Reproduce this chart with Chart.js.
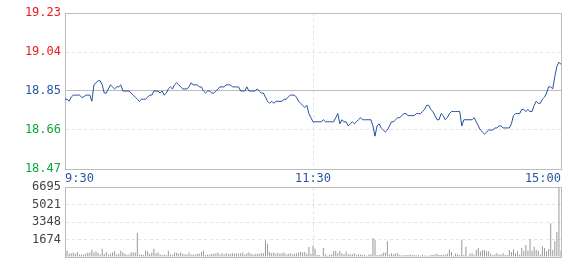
<!DOCTYPE html>
<html>
<head>
<meta charset="utf-8">
<script src="https://cdn.jsdelivr.net/npm/chart.js@4.4.1/dist/chart.umd.min.js"></script>
<style>
  html, body { margin: 0; padding: 0; background: #fff; }
  #wrap { position: relative; width: 580px; height: 280px; }
  #price { position: absolute; left: 0; top: 0; }
  #volume { position: absolute; left: 0; top: 176px; }
</style>
</head>
<body>
<div id="wrap">
  <canvas id="price" width="580" height="184"></canvas>
  <canvas id="volume" width="580" height="104"></canvas>
</div>
<script>
// time axis: minute index 0..240 (9:30 - 11:30, 13:01 - 15:00)
const timeTicks = [0, 120, 240];
const timeLabels = ["9:30", "11:30", "15:00"];
const priceTicks = [18.47, 18.66, 18.85, 19.04, 19.23];
const prevClose = 18.85;
const volumeTicks = [0, 1674, 3348, 5021, 6695];

// minute prices, morning session (9:30 - 11:30)
const priceAM = [
  18.81, 18.81, 18.80, 18.82, 18.83, 18.83, 18.83, 18.83, 18.82, 18.82,
  18.83, 18.83, 18.83, 18.80, 18.88, 18.89, 18.90, 18.90, 18.88, 18.84,
  18.84, 18.86, 18.88, 18.87, 18.86, 18.87, 18.87, 18.88, 18.85, 18.85,
  18.85, 18.85, 18.84, 18.83, 18.82, 18.81, 18.80, 18.81, 18.81, 18.81,
  18.82, 18.83, 18.83, 18.85, 18.85, 18.85, 18.84, 18.85, 18.83, 18.84,
  18.86, 18.87, 18.86, 18.88, 18.89, 18.88, 18.87, 18.86, 18.86, 18.86,
  18.87, 18.89, 18.88, 18.88, 18.88, 18.87, 18.87, 18.85, 18.84, 18.85,
  18.85, 18.84, 18.84, 18.85, 18.86, 18.87, 18.87, 18.87, 18.88, 18.88,
  18.88, 18.87, 18.87, 18.87, 18.87, 18.85, 18.85, 18.85, 18.87, 18.85,
  18.85, 18.85, 18.85, 18.86, 18.85, 18.84, 18.84, 18.82, 18.80, 18.79,
  18.80, 18.79, 18.80, 18.80, 18.80, 18.80, 18.81, 18.81, 18.82, 18.83,
  18.83, 18.83, 18.82, 18.80, 18.79, 18.78, 18.77, 18.78, 18.74, 18.72,
  18.70
];
// afternoon session (13:01 - 15:00)
const pricePM = [
  18.70, 18.70, 18.70, 18.70, 18.71, 18.70, 18.70, 18.70, 18.70, 18.70,
  18.72, 18.74, 18.69, 18.71, 18.70, 18.70, 18.68, 18.69, 18.70, 18.69,
  18.70, 18.71, 18.72, 18.71, 18.71, 18.71, 18.71, 18.71, 18.68, 18.63,
  18.68, 18.69, 18.67, 18.66, 18.65, 18.66, 18.68, 18.70, 18.70, 18.71,
  18.72, 18.72, 18.73, 18.74, 18.74, 18.73, 18.73, 18.73, 18.73, 18.74,
  18.74, 18.74, 18.75, 18.76, 18.78, 18.78, 18.76, 18.75, 18.73, 18.71,
  18.71, 18.74, 18.73, 18.71, 18.72, 18.74, 18.75, 18.75, 18.75, 18.75,
  18.75, 18.68, 18.71, 18.71, 18.71, 18.71, 18.71, 18.72, 18.70, 18.68,
  18.66, 18.65, 18.64, 18.65, 18.66, 18.66, 18.66, 18.67, 18.67, 18.68,
  18.68, 18.67, 18.67, 18.67, 18.67, 18.69, 18.73, 18.74, 18.74, 18.74,
  18.76, 18.76, 18.75, 18.76, 18.75, 18.75, 18.78, 18.80, 18.79, 18.79,
  18.81, 18.82, 18.84, 18.87, 18.87, 18.86, 18.92, 18.97, 18.99, 18.98
];

// minute volumes
const volumeAM = [
  300, 610, 300, 370, 430, 300, 490, 250, 250, 250,
  300, 400, 430, 700, 430, 550, 400, 250, 790, 300,
  490, 250, 300, 430, 550, 250, 300, 610, 430, 300,
  180, 250, 430, 430, 430, 2300, 250, 250, 180, 610,
  550, 300, 430, 790, 370, 430, 250, 180, 250, 180,
  610, 250, 180, 430, 400, 300, 430, 300, 250, 250,
  430, 250, 250, 250, 300, 300, 490, 610, 180, 250,
  250, 300, 300, 370, 430, 250, 370, 250, 370, 300,
  300, 370, 300, 370, 300, 370, 430, 250, 370, 430,
  300, 250, 300, 300, 300, 370, 370, 1600, 1250, 490,
  370, 430, 300, 400, 300, 370, 430, 250, 300, 370,
  250, 300, 370, 430, 490, 430, 490, 300, 950, 300,
  1100
];
const volumePM = [
  800, 180, 180, 60, 890, 275, 120, 180, 245, 580,
  610, 370, 610, 370, 275, 520, 275, 275, 275, 370,
  180, 275, 245, 180, 180, 120, 245, 275, 1800, 1650,
  180, 180, 275, 430, 430, 1500, 245, 370, 275, 370,
  370, 180, 150, 180, 180, 180, 245, 180, 180, 150,
  180, 120, 180, 150, 120, 120, 180, 180, 245, 305,
  180, 180, 180, 245, 305, 730, 490, 120, 335, 275,
  180, 1650, 180, 980, 120, 335, 370, 180, 670, 855,
  520, 670, 640, 550, 550, 305, 180, 245, 370, 245,
  245, 370, 180, 180, 670, 490, 730, 370, 580, 245,
  855, 610, 1160, 610, 1710, 610, 980, 670, 610, 245,
  1040, 855, 550, 765, 3240, 670, 1500, 2400, 6695, 600
];

const prices = priceAM.concat(pricePM);
const volumes = volumeAM.concat(volumePM);

const boxGray = '#bcbcbc';
const dashGray = '#e3e3e3';
const monoFont = { family: 'DejaVu Sans Mono', size: 12 };

function timeAxis(showLabels) {
    return {
        type: 'linear',
        min: 0,
        max: 240,
        offset: false,
        afterBuildTicks: s => { s.ticks = timeTicks.map(v => ({ value: v })); },
        afterFit: s => { s.height = showLabels ? 15 : 0; },
        grid: {
            offset: false,
            drawTicks: false,
            color: c => (c.tick && c.tick.value === 120) ? dashGray : boxGray
        },
        border: {
            color: boxGray,
            dash: c => (c.tick && c.tick.value === 120) ? [3, 3] : []
        },
        ticks: {
            display: showLabels,
            align: 'inner',
            padding: 3,
            maxRotation: 0,
            autoSkip: false,
            color: '#2b55a0',
            font: monoFont,
            callback: v => timeLabels[timeTicks.indexOf(v)]
        }
    };
}

// price chart
new Chart(document.getElementById('price'), {
    type: 'line',
    data: {
        datasets: [{
            data: prices.map((p, i) => ({ x: i, y: p })),
            borderColor: '#23509c',
            borderWidth: 1,
            pointRadius: 0,
            tension: 0
        }]
    },
    options: {
        responsive: false,
        animation: false,
        devicePixelRatio: 1,
        layout: { padding: { left: 0, right: 19, top: 13, bottom: 0 } },
        plugins: { legend: { display: false }, tooltip: { enabled: false } },
        scales: {
            x: timeAxis(true),
            y: {
                min: priceTicks[0],
                max: priceTicks[priceTicks.length - 1],
                afterBuildTicks: s => { s.ticks = priceTicks.map(v => ({ value: v })); },
                afterFit: s => { s.width = 65; },
                grid: {
                    drawTicks: false,
                    color: c => {
                        const v = c.tick ? c.tick.value : null;
                        return (v === 19.04 || v === 18.66) ? dashGray : boxGray;
                    }
                },
                border: {
                    color: boxGray,
                    dash: c => (c.tick && (c.tick.value === 19.04 || c.tick.value === 18.66)) ? [3, 3] : []
                },
                ticks: {
                    padding: 4,
                    font: monoFont,
                    color: c => c.tick.value > prevClose ? '#f01818' : (c.tick.value < prevClose ? '#0aa83c' : '#1f5aa6'),
                    callback: v => v.toFixed(2)
                }
            }
        }
    }
});

// volume chart
new Chart(document.getElementById('volume'), {
    type: 'bar',
    data: {
        datasets: [{
            data: volumes.map((v, i) => ({ x: i, y: v })),
            backgroundColor: '#999999',
            barThickness: 1,
            inflateAmount: 0
        }]
    },
    options: {
        responsive: false,
        animation: false,
        devicePixelRatio: 1,
        layout: { padding: { left: 0, right: 19, top: 8, bottom: 23 } },
        plugins: { legend: { display: false }, tooltip: { enabled: false } },
        scales: {
            x: timeAxis(false),
            y: {
                min: 0,
                max: volumeTicks[volumeTicks.length - 1],
                afterBuildTicks: s => { s.ticks = volumeTicks.map(v => ({ value: v })); },
                afterFit: s => { s.width = 65; },
                grid: {
                    drawTicks: false,
                    color: c => {
                        const v = c.tick ? c.tick.value : null;
                        return (v === 6695 || v === 0) ? boxGray : dashGray;
                    }
                },
                border: {
                    color: boxGray,
                    dash: c => (c.tick && c.tick.value !== 6695 && c.tick.value !== 0) ? [3, 3] : []
                },
                ticks: {
                    padding: 4,
                    font: monoFont,
                    color: '#444',
                    callback: v => v === 0 ? '' : String(v)
                }
            }
        }
    }
});
</script>
</body>
</html>
